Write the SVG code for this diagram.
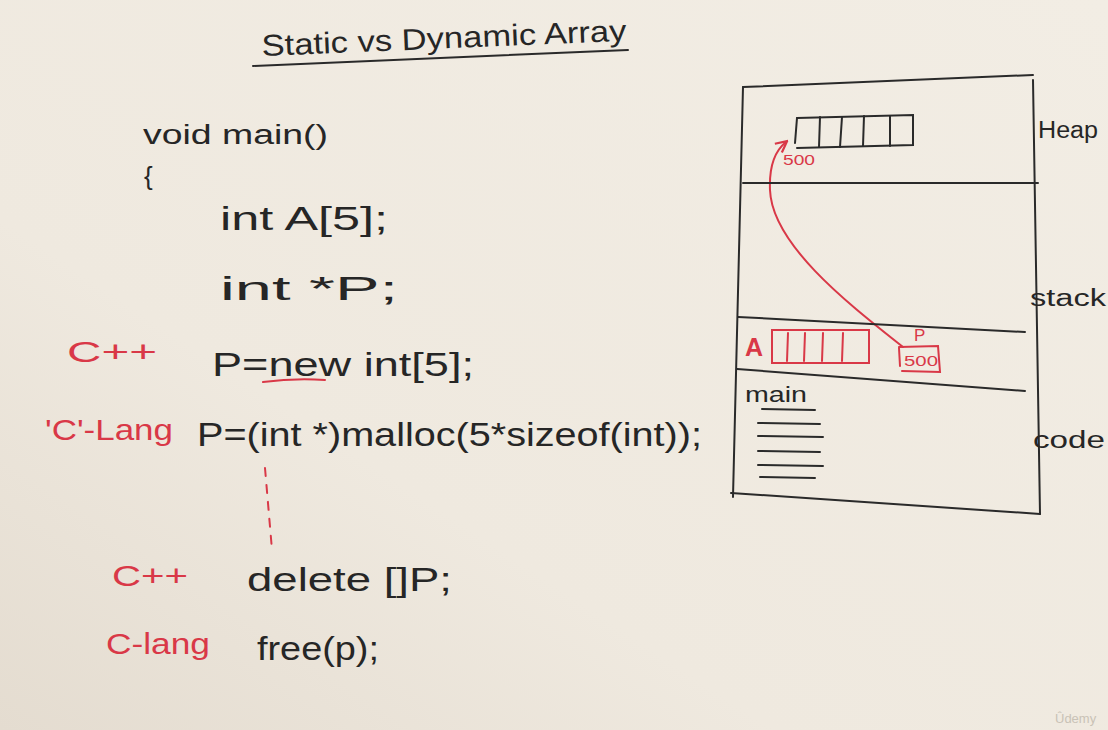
<svg xmlns="http://www.w3.org/2000/svg" width="1108" height="730" viewBox="0 0 1108 730">
  <defs>
    <linearGradient id="board" x1="1" y1="0" x2="0" y2="1">
      <stop offset="0" stop-color="#f2ede4"/>
      <stop offset="0.65" stop-color="#efe9df"/>
      <stop offset="1" stop-color="#e4dcd0"/>
    </linearGradient>
    <marker id="redHead" viewBox="0 0 10 10" refX="8" refY="5" markerWidth="7" markerHeight="7" orient="auto">
      <path d="M1,1 L9,5 L1,9" fill="none" stroke="#d93847" stroke-width="1.6"/>
    </marker>
    <style>
      text { font-family: "Liberation Sans", "DejaVu Sans", sans-serif; }
      .ink { fill: #262626; }
      .red { fill: #d93847; }
      .pen { fill: none; stroke: #2a2a2a; stroke-width: 2; stroke-linecap: round; }
      .rpen { fill: none; stroke: #d93847; stroke-width: 2; stroke-linecap: round; }
      .code { font-size: 34px; }
      .lbl { font-size: 30px; }
      .seg { font-size: 23px; }
    </style>
  </defs>

  <rect width="1108" height="730" fill="url(#board)"/>

  <!-- title, written on a slight upward slant -->
  <g id="title">
    <text class="ink" x="262" y="56" font-size="30" textLength="365" lengthAdjust="spacingAndGlyphs" transform="rotate(-2.4 262 56)">Static vs Dynamic Array</text>
    <path class="pen" d="M253,66 L628,50"/>
  </g>

  <!-- program text -->
  <g id="code-main">
    <text class="ink" x="143" y="144" font-size="27" textLength="185" lengthAdjust="spacingAndGlyphs">void main()</text>
    <text class="ink" x="144" y="185" font-size="26">{</text>
  </g>
  <g id="code-static">
    <text class="ink code" x="220" y="230" textLength="168" lengthAdjust="spacingAndGlyphs">int A[5];</text>
  </g>
  <g id="code-pointer">
    <text class="ink code" x="220" y="300" textLength="178" lengthAdjust="spacingAndGlyphs">int *P;</text>
  </g>
  <g id="code-new">
    <text class="red lbl" x="67" y="362" textLength="90" lengthAdjust="spacingAndGlyphs">C++</text>
    <text class="ink code" x="212" y="376" textLength="262" lengthAdjust="spacingAndGlyphs">P=new int[5];</text>
    <path class="rpen" d="M263,382 Q294,378 325,380" stroke-width="3"/>
  </g>
  <g id="code-malloc">
    <text class="red lbl" x="45" y="440" textLength="128" lengthAdjust="spacingAndGlyphs">'C'-Lang</text>
    <text class="ink code" x="197" y="446" textLength="505" lengthAdjust="spacingAndGlyphs">P=(int *)malloc(5*sizeof(int));</text>
  </g>

  <!-- connectors -->
  <g id="connectors">
    <path class="rpen" d="M265,468 L272,550" stroke-dasharray="8,9"/>
    <path class="rpen" d="M903,347 C850,305 772,245 770,190 C769,166 776,150 786,142" stroke-width="1.6" marker-end="url(#redHead)"/>
  </g>

  <g id="code-delete">
    <text class="red lbl" x="112" y="586" textLength="76" lengthAdjust="spacingAndGlyphs">C++</text>
    <text class="ink code" x="247" y="591" textLength="205" lengthAdjust="spacingAndGlyphs">delete []P;</text>
  </g>
  <g id="code-free">
    <text class="red lbl" x="106" y="654" textLength="104" lengthAdjust="spacingAndGlyphs">C-lang</text>
    <text class="ink code" x="257" y="660" textLength="122" lengthAdjust="spacingAndGlyphs">free(p);</text>
  </g>

  <!-- memory layout -->
  <g id="memory">
    <path class="pen" d="M743,87 L1033,75"/>
    <path class="pen" d="M1033,80 L1040,514"/>
    <path class="pen" d="M743,87 L733,497"/>
    <path class="pen" d="M731,493 L1040,514"/>
    <path class="pen" d="M743,183 L1038,183"/>
    <path class="pen" d="M738,317 L1025,332"/>
    <path class="pen" d="M737,369 L1025,391"/>
  </g>

  <g id="heap">
    <path class="pen" d="M797,118 L913,115 L913,145 L797,148" />
    <path class="pen" d="M797,118 L795,143"/>
    <path class="pen" d="M820,117 L819,147"/>
    <path class="pen" d="M842,117 L840,147"/>
    <path class="pen" d="M864,116 L863,146"/>
    <path class="pen" d="M890,116 L890,146"/>
    <text class="red" x="783" y="165" font-size="14" textLength="32" lengthAdjust="spacingAndGlyphs">500</text>
    <text class="ink seg" x="1038" y="138" textLength="60" lengthAdjust="spacingAndGlyphs">Heap</text>
  </g>

  <g id="stack">
    <text class="ink seg" x="1030" y="306" textLength="76" lengthAdjust="spacingAndGlyphs">stack</text>
    <text class="red" x="745" y="356" font-size="25" font-weight="bold">A</text>
    <rect class="rpen" x="772" y="330" width="97" height="33"/>
    <path class="rpen" d="M788,333 L787,361"/>
    <path class="rpen" d="M805,333 L804,361"/>
    <path class="rpen" d="M823,333 L822,361"/>
    <path class="rpen" d="M843,333 L842,361"/>
    <text class="red" x="914" y="341" font-size="17">P</text>
    <path class="rpen" d="M899,347 L938,346 L940,372 L902,371"/>
    <path class="rpen" d="M899,348 L900,366"/>
    <text class="red" x="904" y="366" font-size="14" textLength="34" lengthAdjust="spacingAndGlyphs">500</text>
  </g>

  <g id="code-section">
    <text class="ink" x="745" y="402" font-size="22" textLength="62" lengthAdjust="spacingAndGlyphs">main</text>
    <path class="pen" d="M762,409 L815,410"/>
    <path class="pen" d="M758,423 L820,424"/>
    <path class="pen" d="M758,436 L823,437"/>
    <path class="pen" d="M758,451 L820,452"/>
    <path class="pen" d="M758,465 L823,466"/>
    <path class="pen" d="M760,477 L815,478"/>
    <text class="ink seg" x="1033" y="448" textLength="72" lengthAdjust="spacingAndGlyphs">code</text>
  </g>

  <text x="1055" y="723" font-size="13" fill="#c9c2b6" font-family="Liberation Sans, sans-serif">Ûdemy</text>
</svg>
